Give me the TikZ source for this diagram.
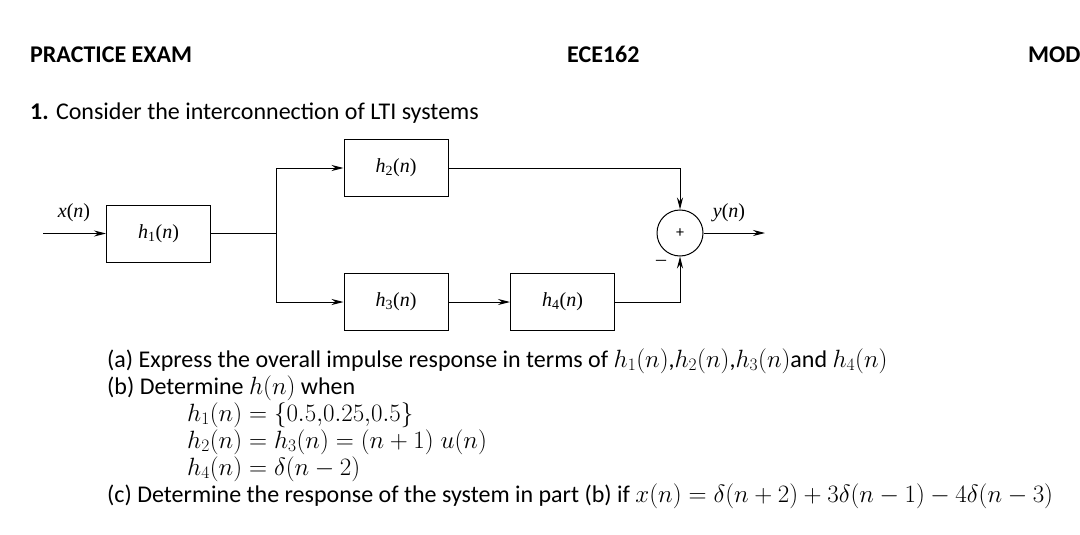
\documentclass[tikz,border=0pt]{standalone}
\usepackage{fix-cm}
\usepackage{fontspec}
\setmainfont{Carlito}
\newfontfamily\dfont{Liberation Serif}
\usetikzlibrary{arrows.meta}
\newcommand{\hs}[1]{{\dfont\itshape h}{\dfont\textsubscript{#1}(\itshape n\/\upshape)}}
\newcommand{\vr}[1]{{\dfont\itshape #1}{\dfont(\itshape n\/\upshape)}}
\newcommand{\bodyfont}{\fontsize{24}{28}\selectfont}
\newcommand{\dlabfont}{\fontsize{20}{24}\selectfont}
\newcommand{\M}[1]{{\fontsize{25}{28}\selectfont$#1$}}
\begin{document}
\begin{tikzpicture}[x=1pt,y=-1pt,
  blk/.style={draw, line width=1pt, minimum width=104pt, minimum height=57pt, inner sep=0pt, font=\dlabfont},
  ar/.style={-{Stealth[length=12pt,width=6pt]}, line width=1pt},
  ln/.style={line width=1pt},
  txt/.style={anchor=base west, inner sep=0pt, font=\bodyfont},
  lab/.style={inner sep=0pt, font=\dlabfont},
]
\useasboundingbox (0,0) rectangle (1080,535);
% header
\node[txt] (t1) at (30,63) {\bfseries PRACTICE EXAM};
\node[txt] (t2) at (567,63) {\bfseries ECE162};
\node[txt] (t3) at (1028,63) {\bfseries MOD};
\node[txt] (q1) at (30,120) {\textbf{1.} Consider the interconnection of LTI systems};
% diagram
\node[blk] (h1) at (158.5,233.5) {\hs{1}};
\node[blk] (h2) at (396,168) {\hs{2}};
\node[blk] (h3) at (396,302) {\hs{3}};
\node[blk] (h4) at (562.5,302) {\hs{4}};
\node[draw,circle,minimum size=46pt,inner sep=0pt,line width=1pt,font=\fontsize{16}{16}\selectfont] (s) at (680,233) {+};
\coordinate (in) at (43,233.5);
\coordinate (j) at (276,233.5);
\coordinate (out) at (765,233);
\draw[ar] (in) -- (h1);
\draw[ln] (h1) -- (j);
\draw[ar] (j) |- (h2);
\draw[ar] (j) |- (h3);
\draw[ar] (h3) -- (h4);
\draw[ar] (h2) -| (s);
\draw[ar] (h4) -| (s);
\draw[ar] (s) -- (out);
\node[lab] (xl) at (74,213) {\vr{x}};
\node[lab] (yl) at (729,213) {\vr{y}};
\node[lab] (ml) at (661,263) {{\dfont\textendash}};
% questions
\node[txt] (qa) at (107,367) {(a) Express the overall impulse response in terms of \M{h_1(n)},\M{h_2(n)},\M{h_3(n)}and \M{h_4(n)}};
\node[txt] (qb) at (107,394) {(b) Determine \M{h(n)} when};
\node[txt] (e1) at (187,421) {\M{h_1(n)=\{0.5{,}0.25{,}0.5\}}};
\node[txt] (e2) at (187,448) {\M{h_2(n)=h_3(n)=(n+1)\;u(n)}};
\node[txt] (e3) at (187,475) {\M{h_4(n)=\delta(n-2)}};
\node[txt] (qc) at (107,502) {(c) Determine the response of the system in part (b) if \M{x(n)=\delta(n+2)+3\delta(n-1)-4\delta(n-3)}};
\end{tikzpicture}
\end{document}
